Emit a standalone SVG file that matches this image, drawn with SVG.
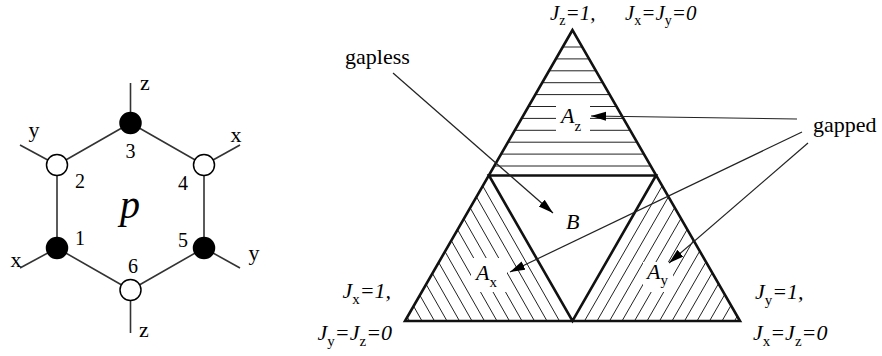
<svg xmlns="http://www.w3.org/2000/svg" width="882" height="356" viewBox="0 0 882 356">
<style>
.t{font-family:"Liberation Serif","Times New Roman",serif;fill:#000}
.it{font-style:italic}
.hx{stroke:#333;stroke-width:1.6;fill:none}
.leg{stroke:#333;stroke-width:1.6}
.vb{fill:#000;stroke:#000;stroke-width:1.5}
.vw{fill:#fff;stroke:#000;stroke-width:1.5}
.h{stroke:#222;stroke-width:1}
.edge{stroke:#111;stroke-width:2.6;fill:none;stroke-linejoin:miter}
.arr{stroke:#222;stroke-width:1.2;fill:none;marker-end:url(#ah)}
</style>
<defs>
<marker id="ah" markerUnits="userSpaceOnUse" markerWidth="16" markerHeight="10" refX="15" refY="4.5" orient="auto">
<path d="M0,0 L15,4.5 L0,9 z" fill="#000"/>
</marker>
<clipPath id="cTop"><polygon points="572.5,30 489,175.5 656,175.5"/></clipPath>
<clipPath id="cLeft"><polygon points="405,321 489,175.5 572.5,321"/></clipPath>
<clipPath id="cRight"><polygon points="572.5,321 656,175.5 740,321"/></clipPath>
</defs>
<rect width="882" height="356" fill="#fff"/>

<!-- Hexagon plaquette -->
<g id="hexagon">
<polygon class="hx" points="130.5,123 204,165 204,248 130.5,290 57,248 57,165"/>
<line class="leg" x1="130.5" y1="123" x2="130.5" y2="83"/>
<line class="leg" x1="130.5" y1="290" x2="130.5" y2="333"/>
<line class="leg" x1="57" y1="165" x2="20" y2="145"/>
<line class="leg" x1="204" y1="165" x2="240" y2="145"/>
<line class="leg" x1="57" y1="248" x2="20" y2="268"/>
<line class="leg" x1="204" y1="248" x2="240" y2="268"/>
<text class="t it" x="130" y="218" font-size="40" text-anchor="middle">p</text>
</g>
<g id="site1"><circle class="vb" cx="57" cy="248" r="10.5"/><text class="t" x="80" y="245" font-size="20" text-anchor="middle">1</text><text class="t" x="16" y="267" font-size="22" text-anchor="middle">x</text></g>
<g id="site2"><circle class="vw" cx="57" cy="165" r="10.5"/><text class="t" x="80" y="188" font-size="20" text-anchor="middle">2</text><text class="t" x="34" y="137" font-size="22" text-anchor="middle">y</text></g>
<g id="site3"><circle class="vb" cx="130.5" cy="123" r="10.5"/><text class="t" x="130.5" y="158" font-size="20" text-anchor="middle">3</text><text class="t" x="145" y="90" font-size="22" text-anchor="middle">z</text></g>
<g id="site4"><circle class="vw" cx="204" cy="165" r="10.5"/><text class="t" x="183" y="190" font-size="20" text-anchor="middle">4</text><text class="t" x="236" y="142" font-size="22" text-anchor="middle">x</text></g>
<g id="site5"><circle class="vb" cx="204" cy="248" r="10.5"/><text class="t" x="183" y="247" font-size="20" text-anchor="middle">5</text><text class="t" x="254" y="260" font-size="22" text-anchor="middle">y</text></g>
<g id="site6"><circle class="vw" cx="130.5" cy="290" r="10.5"/><text class="t" x="133" y="273" font-size="20" text-anchor="middle">6</text><text class="t" x="144" y="337" font-size="22" text-anchor="middle">z</text></g>

<!-- Phase triangle -->
<g id="regionAz">
<g clip-path="url(#cTop)">
<line class="h" x1="480" y1="47" x2="670" y2="47"/>
<line class="h" x1="480" y1="58.9" x2="670" y2="58.9"/>
<line class="h" x1="480" y1="70.8" x2="670" y2="70.8"/>
<line class="h" x1="480" y1="82.7" x2="670" y2="82.7"/>
<line class="h" x1="480" y1="94.6" x2="670" y2="94.6"/>
<line class="h" x1="480" y1="106.5" x2="670" y2="106.5"/>
<line class="h" x1="480" y1="118.4" x2="670" y2="118.4"/>
<line class="h" x1="480" y1="130.3" x2="670" y2="130.3"/>
<line class="h" x1="480" y1="142.2" x2="670" y2="142.2"/>
<line class="h" x1="480" y1="154.1" x2="670" y2="154.1"/>
<line class="h" x1="480" y1="166" x2="670" y2="166"/>
</g>
<rect x="556" y="100" width="34" height="38" fill="#fff"/>
<text class="t it" x="561" y="123" font-size="22">A<tspan font-size="15" dy="8" font-style="normal">z</tspan></text>
</g>

<g id="regionAx">
<g clip-path="url(#cLeft)">
<line class="h" x1="559.5" y1="321" x2="476.5" y2="175"/>
<line class="h" x1="547" y1="321" x2="464" y2="175"/>
<line class="h" x1="534.5" y1="321" x2="451.5" y2="175"/>
<line class="h" x1="522" y1="321" x2="439" y2="175"/>
<line class="h" x1="509.5" y1="321" x2="426.5" y2="175"/>
<line class="h" x1="497" y1="321" x2="414" y2="175"/>
<line class="h" x1="484.5" y1="321" x2="401.5" y2="175"/>
<line class="h" x1="472" y1="321" x2="389" y2="175"/>
<line class="h" x1="459.5" y1="321" x2="376.5" y2="175"/>
<line class="h" x1="447" y1="321" x2="364" y2="175"/>
<line class="h" x1="434.5" y1="321" x2="351.5" y2="175"/>
<line class="h" x1="422" y1="321" x2="339" y2="175"/>
<line class="h" x1="409.5" y1="321" x2="326.5" y2="175"/>
</g>
<rect x="471" y="258" width="36" height="34" fill="#fff"/>
<text class="t it" x="476" y="280" font-size="22">A<tspan font-size="15" dy="7" font-style="normal">x</tspan></text>
</g>

<g id="regionAy">
<g clip-path="url(#cRight)">
<line class="h" x1="584.5" y1="321" x2="668.5" y2="175"/>
<line class="h" x1="597" y1="321" x2="681" y2="175"/>
<line class="h" x1="609.5" y1="321" x2="693.5" y2="175"/>
<line class="h" x1="622" y1="321" x2="706" y2="175"/>
<line class="h" x1="634.5" y1="321" x2="718.5" y2="175"/>
<line class="h" x1="647" y1="321" x2="731" y2="175"/>
<line class="h" x1="659.5" y1="321" x2="743.5" y2="175"/>
<line class="h" x1="672" y1="321" x2="756" y2="175"/>
<line class="h" x1="684.5" y1="321" x2="768.5" y2="175"/>
<line class="h" x1="697" y1="321" x2="781" y2="175"/>
<line class="h" x1="709.5" y1="321" x2="793.5" y2="175"/>
<line class="h" x1="722" y1="321" x2="806" y2="175"/>
<line class="h" x1="734.5" y1="321" x2="818.5" y2="175"/>
</g>
<rect x="643" y="262" width="30" height="30" fill="#fff"/>
<text class="t it" x="647" y="279" font-size="22">A<tspan font-size="15" dy="6" font-style="normal">y</tspan></text>
</g>

<g id="regionB">
<text class="t it" x="566" y="229" font-size="22">B</text>
</g>

<g id="triangle">
<polygon class="edge" points="572.5,30 405,321 740,321"/>
<polygon class="edge" points="489,175.5 656,175.5 572.5,321"/>
</g>

<g id="cornerZ">
<text class="t it" x="550" y="20" font-size="21">J<tspan font-size="14" dy="5" font-style="normal">z</tspan><tspan dy="-5">=1,</tspan></text>
<text class="t it" x="625" y="20" font-size="21">J<tspan font-size="14" dy="5" font-style="normal">x</tspan><tspan dy="-5">=J</tspan><tspan font-size="14" dy="5" font-style="normal">y</tspan><tspan dy="-5">=0</tspan></text>
</g>
<g id="cornerX">
<text class="t it" x="391" y="298" font-size="22" text-anchor="end">J<tspan font-size="15" dy="6" font-style="normal">x</tspan><tspan dy="-6">=1,</tspan></text>
<text class="t it" x="392" y="340" font-size="22" text-anchor="end">J<tspan font-size="15" dy="6" font-style="normal">y</tspan><tspan dy="-6">=J</tspan><tspan font-size="15" dy="6" font-style="normal">z</tspan><tspan dy="-6">=0</tspan></text>
</g>
<g id="cornerY">
<text class="t it" x="755" y="299" font-size="22">J<tspan font-size="15" dy="6" font-style="normal">y</tspan><tspan dy="-6">=1,</tspan></text>
<text class="t it" x="753" y="340" font-size="22">J<tspan font-size="15" dy="6" font-style="normal">x</tspan><tspan dy="-6">=J</tspan><tspan font-size="15" dy="6" font-style="normal">z</tspan><tspan dy="-6">=0</tspan></text>
</g>

<g id="gapless"><text class="t" x="345" y="64" font-size="22">gapless</text></g>
<g id="gapped"><text class="t" x="813" y="132" font-size="22">gapped</text></g>

<g id="connectors">
<line class="arr" x1="393" y1="73" x2="553" y2="213"/>
<line class="arr" x1="797" y1="119" x2="591" y2="116"/>
<line class="arr" x1="802" y1="132" x2="510" y2="272"/>
<line class="arr" x1="808" y1="143" x2="669" y2="263"/>
</g>
</svg>
